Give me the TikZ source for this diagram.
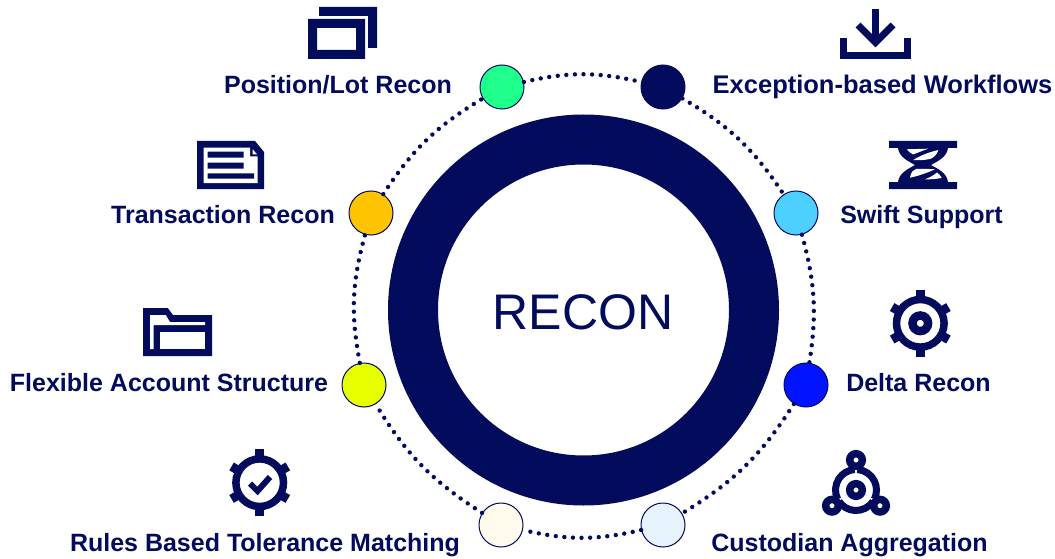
\documentclass[tikz,border=0pt]{standalone}
\usepackage{fontspec}
\setmainfont{Liberation Sans}
\definecolor{navy}{HTML}{020B5C}
\tikzset{
  dot/.style={circle,draw=navy,line width=1pt,minimum size=44pt,inner sep=0pt},
  link/.style={draw=navy,line width=4.4pt,line cap=round,dash pattern=on 0pt off 8.6pt},
  lbl/.style={text=navy,font=\fontsize{25}{27}\selectfont\bfseries,inner sep=0pt,anchor=base},
  lblwide/.style={lbl,font=\fontsize{25.5}{27}\selectfont\bfseries},
  stroke/.style={draw=navy,fill=none}
}
\newcommand{\gearicon}[2]{%
  \begin{scope}[shift={(#1,#2)}]
    \draw[stroke,line width=7.5pt] (0,0) circle (23.8);
    \foreach \a in {0,180}{\fill[navy,rotate=\a] (-4.5,-33.5) rectangle (4.5,-22);}
    \foreach \a in {60,120,240,300}{\fill[navy,rotate=\a] (-4.5,-32.5) rectangle (4.5,-22);}
  \end{scope}}
\begin{document}
\begin{tikzpicture}[x=1pt,y=-1pt]
\useasboundingbox (0,0) rectangle (1055,559);
% main ring
\node[circle,draw=navy,line width=50pt,minimum size=341pt,inner sep=0pt] (ring) at (583.5,310) {};
\node[text=navy,font=\fontsize{50}{56}\selectfont,inner sep=0pt] (title) at (583,312) {RECON};
% circles
\node[dot,fill={rgb,255:red,30;green,255;blue,140}] (c1) at (502,87) {};
\node[dot,fill=navy] (c2) at (663,87) {};
\node[dot,fill={rgb,255:red,77;green,208;blue,255}] (c3) at (796,213) {};
\node[dot,fill={rgb,255:red,0;green,20;blue,255}] (c4) at (806,385) {};
\node[dot,fill={rgb,255:red,230;green,243;blue,252}] (c5) at (663,525) {};
\node[dot,fill={rgb,255:red,255;green,250;blue,235}] (c6) at (501,525) {};
\node[dot,fill={rgb,255:red,232;green,255;blue,0}] (c7) at (364,385) {};
\node[dot,fill={rgb,255:red,255;green,195;blue,0}] (c8) at (371,213) {};
% connectors
\draw[link] (c1) to[bend left=13] (c2);
\draw[link] (c2) to[bend left=13] (c3);
\draw[link] (c3) to[bend left=12] (c4);
\draw[link] (c4) to[bend left=13] (c5);
\draw[link] (c5) to[bend left=13] (c6);
\draw[link] (c6) to[bend left=13] (c7);
\draw[link] (c7) to[bend left=13] (c8);
\draw[link] (c8) to[bend left=13] (c1);
% labels
\node[lbl] (l1) at (338,94) {Position/Lot Recon};
\node[lblwide] (l2) at (882.5,94) {Exception-based Workflows};
\node[lbl] (l3) at (921.5,223) {Swift Support};
\node[lbl] (l4) at (918.5,391) {Delta Recon};
\node[lbl] (l5) at (849.5,551) {Custodian Aggregation};
\node[lbl] (l6) at (265,551) {Rules Based Tolerance Matching};
\node[lbl] (l7) at (169,391) {Flexible Account Structure};
\node[lbl] (l8) at (223,223) {Transaction Recon};
% windows icon
\fill[navy] (319,7)--(377,7)--(377,48)--(368,48)--(368,16)--(319,16)--cycle;
\fill[navy,even odd rule] (308,19) rectangle (365,59) (317,28) rectangle (356,50);
% document icon
\fill[navy] (197,141)--(255,141)--(264,152)--(264,189)--(197,189)--cycle;
\fill[white] (203.7,147.7)--(250,147.7)--(250,156.5)--(257.5,156.5)--(257.5,183)--(203.7,183)--cycle;
\fill[white] (252.7,149.3)--(257,154.3)--(252.7,154.3)--cycle;
\fill[navy] (207.7,151.7) rectangle (243.7,157.7) (207.7,162.7) rectangle (243.7,168.7) (207.7,173.3) rectangle (254,178.7);
% download icon
\draw[navy,line width=7pt,miter limit=10] (843.5,38)--(843.5,55.5)--(907.5,55.5)--(907.5,38);
\draw[navy,line width=7pt] (875.5,9)--(875.5,42);
\draw[navy,line width=7pt,miter limit=10] (858,25)--(875.5,42.5)--(893,25);
% swift icon
\fill[navy] (889,141) rectangle (957,148) (889,182) rectangle (957,189);
\fill[navy] (898,148) .. controls (899,157) and (908,161) .. (915,165) .. controls (908,169) and (899,173) .. (898,182)
  -- (948,182) .. controls (947,173) and (938,169) .. (931,165) .. controls (938,161) and (947,157) .. (948,148) -- cycle;
\fill[white] (906.7,149.3)--(928,148.7) .. controls (922,151) and (917,153) .. (913,154.5) .. controls (910,153) and (908,151) .. (906.7,149.3) -- cycle;
\fill[white] (913.3,160) .. controls (921,155) and (930,152) .. (938.3,150) .. controls (937,155) and (933,158) .. (930,159) .. controls (925,160) and (919,160.5) .. (913.3,160) -- cycle;
\fill[white] (910,177.7) .. controls (911,172) and (913,170) .. (916,169) .. controls (922,168.5) and (929,169) .. (935,169.3) .. controls (927,173) and (918,176) .. (910,177.7) -- cycle;
\fill[white] (925,179.3) .. controls (931,177) and (934,175) .. (937,172.5) .. controls (939,174) and (941,176) .. (941.7,178) .. controls (936,179) and (930,179.5) .. (925,179.3) -- cycle;
% delta gear icon
\gearicon{920.3}{323.3}
\draw[stroke,line width=8.5pt] (920.3,323.3) circle (7.8);
% custodian icon
\foreach \a in {-90,30,150}{
  \draw[stroke,line width=7pt] (856,490) ++(\a+4:20.5) arc[start angle=\a+4,end angle=\a+116,radius=20.5];
}
\draw[stroke,line width=7.5pt] (856,490) circle (6.3);
\draw[stroke,line width=7.5pt] (856,460) circle (6.3);
\draw[stroke,line width=7.5pt] (832,505.7) circle (6.3);
\draw[stroke,line width=7.5pt] (880,505.7) circle (6.3);
% folder icon
\fill[navy] (143,308)--(167.7,308)--(173,315)--(212,315)--(212,356)--(143,356)--cycle;
\fill[white] (150,315)--(165.7,315)--(170,322)--(205,322)--(205,325)--(153.5,325)--(153.5,349)--(150,349)--cycle;
\fill[white] (160,332) rectangle (205,349);
% rules gear icon
\gearicon{259.7}{482.7}
\draw[navy,line width=6pt,miter limit=10] (250,483.5)--(257.5,491)--(270,477);
\end{tikzpicture}
\end{document}
